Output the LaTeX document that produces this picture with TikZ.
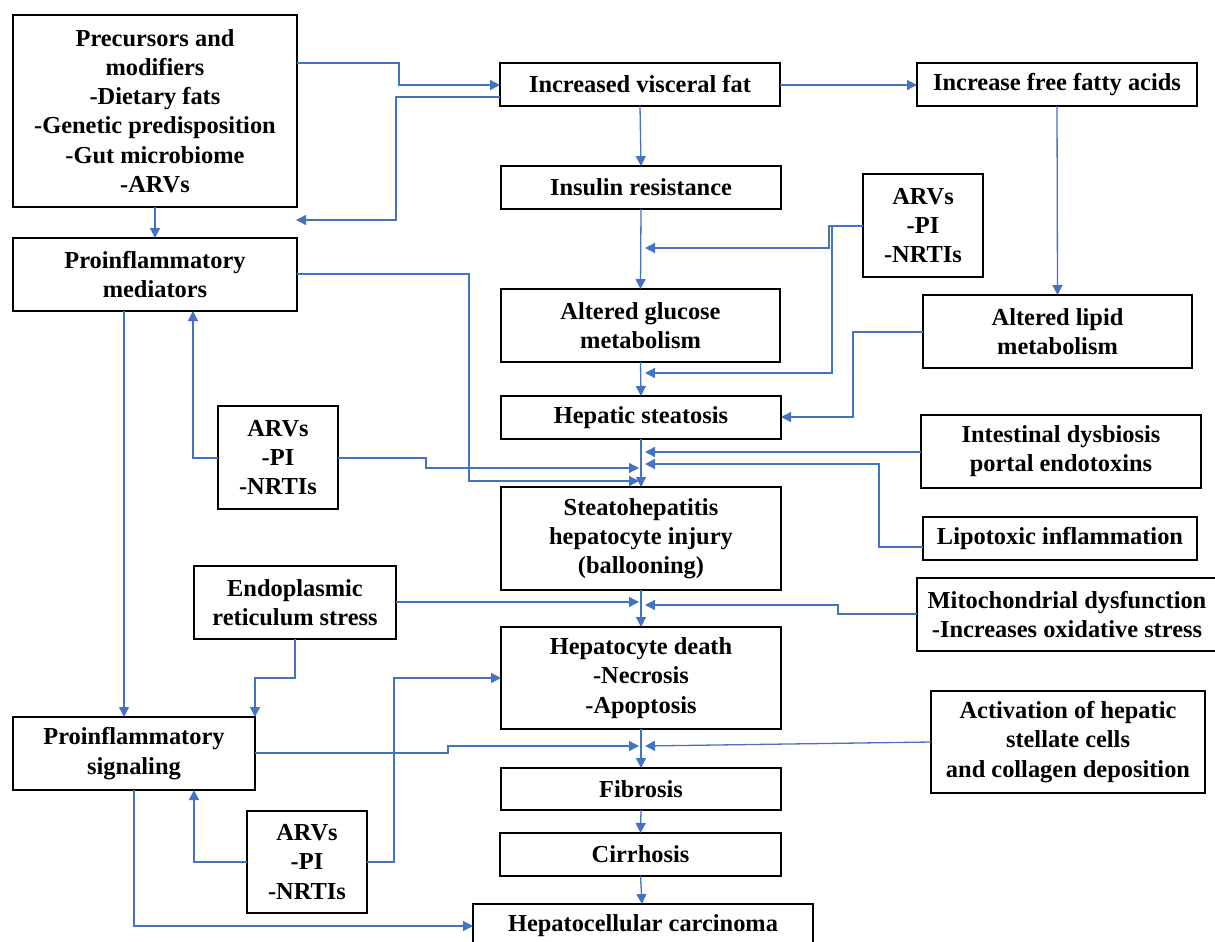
\documentclass[tikz,border=0pt]{standalone}
\usepackage{fontspec}
\setmainfont{Liberation Serif}
\usetikzlibrary{arrows.meta}
\definecolor{arblue}{RGB}{68,114,196}
\tikzset{
  bx/.style={draw=black, line width=0.9pt, rectangle, inner sep=0pt, outer sep=0pt, align=center,
    font=\fontsize{12.2}{14.6}\selectfont\bfseries},
  ar/.style={draw=arblue, line width=0.65pt, -{Triangle[length=5pt,width=5pt]}},
  ln/.style={draw=arblue, line width=0.65pt}
}
\newcommand{\boxnode}[6]{\node[bx, minimum width={(#4-#2)*0.5pt}, minimum height={(#5-#3)*0.5pt}] (#1) at ({(#2+#4)/2},{(#3+#5)/2}) {#6};}
\begin{document}
\begin{tikzpicture}[x=0.5pt,y=-0.5pt]
\useasboundingbox (0,0) rectangle (1215,942);
\clip (0,0) rectangle (1215,942);
% boxes
\boxnode{prec}{13}{15}{297}{207}{Precursors and\\modifiers\\-Dietary fats\\-Genetic predisposition\\-Gut microbiome\\-ARVs}
\boxnode{med}{13}{238}{297}{311}{Proinflammatory\\mediators}
\boxnode{visc}{500}{63}{780}{106}{Increased visceral fat}
\boxnode{ffa}{917}{63}{1197}{106}{Increase free fatty acids}
\boxnode{ins}{501}{166}{781}{209}{Insulin resistance}
\boxnode{arva}{863}{174}{983}{277}{ARVs\\-PI\\-NRTIs}
\boxnode{glu}{501}{289}{780}{362}{Altered glucose\\metabolism}
\boxnode{lip}{923}{295}{1192}{368}{Altered lipid\\metabolism}
\boxnode{steat}{501}{396}{781}{439}{Hepatic steatosis}
\boxnode{dys}{921}{415}{1201}{488}{Intestinal dysbiosis\\portal endotoxins}
\boxnode{arvb}{218}{406}{338}{509}{ARVs\\-PI\\-NRTIs}
\boxnode{shep}{501}{487}{781}{590}{Steatohepatitis\\hepatocyte injury\\(ballooning)}
\boxnode{lipo}{923}{517}{1197}{560}{Lipotoxic inflammation}
\boxnode{er}{194}{566}{396}{639}{Endoplasmic\\reticulum stress}
\boxnode{mito}{917}{578}{1217}{651}{Mitochondrial dysfunction\\-Increases oxidative stress}
\boxnode{death}{501}{627}{781}{729}{Hepatocyte death\\-Necrosis\\-Apoptosis}
\boxnode{act}{931}{691}{1205}{793}{Activation of hepatic\\stellate cells\\and collagen deposition}
\boxnode{sig}{13}{717}{255}{790}{Proinflammatory\\signaling}
\boxnode{fib}{501}{768}{781}{810}{Fibrosis}
\boxnode{arvc}{247}{811}{367}{913}{ARVs\\-PI\\-NRTIs}
\boxnode{cirr}{500}{833}{781}{876}{Cirrhosis}
\boxnode{hcc}{473}{904}{813}{948}{Hepatocellular carcinoma}
% free ends
\coordinate (fe1) at (296,220);
\coordinate (j1) at (645,248);
\coordinate (j2) at (645,373);
\coordinate (j3) at (639,468);
\coordinate (j4) at (639,481);
\coordinate (j5) at (645,452);
\coordinate (j6) at (645,464);
\coordinate (j7) at (639,602);
\coordinate (j8) at (645,605);
\coordinate (j9) at (639,746);
\coordinate (j10) at (645,746);
% connectors
\draw[ar] (prec.east |- 0,63) -- (399,63) -- (399,85) -- (visc.west |- 0,85);
\draw[ar] (visc.west |- 0,97) -- (396,97) -- (396,220) -- (fe1);
\draw[ar] (visc.east |- 0,85) -- (ffa.west |- 0,85);
\draw[ar] (visc.south) -- (ins.north);
\draw[ar] (ins.south) -- (glu.north);
\draw[ar] (arva.west |- 0,226) -- (829,226) -- (829,248) -- (j1);
\draw[ar] (arva.west |- 0,226) -- (832,226) -- (832,373) -- (j2);
\draw[ar] (glu.south) -- (steat.north);
\draw[ar] (ffa.south) -- (lip.north);
\draw[ar] (lip.west |- 0,332) -- (853,332) -- (853,417) -- (steat.east |- 0,417);
\draw[ar] (prec.south) -- (med.north);
\draw[ar] (med.east |- 0,274) -- (469,274) -- (469,481) -- (j4);
\draw[ar] (arvb.west |- 0,458) -- (193,458) -- (med.south -| 193,0);
\draw[ar] (arvb.east |- 0,458) -- (426,458) -- (426,468) -- (j3);
\draw[ar] (steat.south) -- (shep.north);
\draw[ar] (dys.west |- 0,452) -- (j5);
\draw[ar] (lipo.west |- 0,547) -- (879,547) -- (879,464) -- (j6);
\draw[ar] (shep.south) -- (death.north);
\draw[ar] (er.east |- 0,602) -- (j7);
\draw[ar] (mito.west |- 0,614) -- (838,614) -- (838,605) -- (j8);
\draw[ar] (er.south -| 295,0) -- (295,678) -- (255,678) -- (sig.north east);
\draw[ar] (med.south -| 124,0) -- (sig.north -| 124,0);
\draw[ar] (death.south) -- (fib.north);
\draw[ar] (fib.south) -- (cirr.north);
\draw[ar] (cirr.south) -- (hcc.north -| 642,0);
\draw[ar] (arvc.west |- 0,862) -- (194,862) -- (sig.south -| 194,0);
\draw[ar] (arvc.east |- 0,862) -- (394,862) -- (394,678) -- (death.west |- 0,678);
\draw[ar] (sig.east |- 0,753) -- (448,753) -- (448,746) -- (j9);
\draw[ar] (act.west |- 0,742) -- (j10);
\draw[ar] (sig.south -| 134,0) -- (134,926) -- (hcc.west |- 0,926);
\end{tikzpicture}
\end{document}
